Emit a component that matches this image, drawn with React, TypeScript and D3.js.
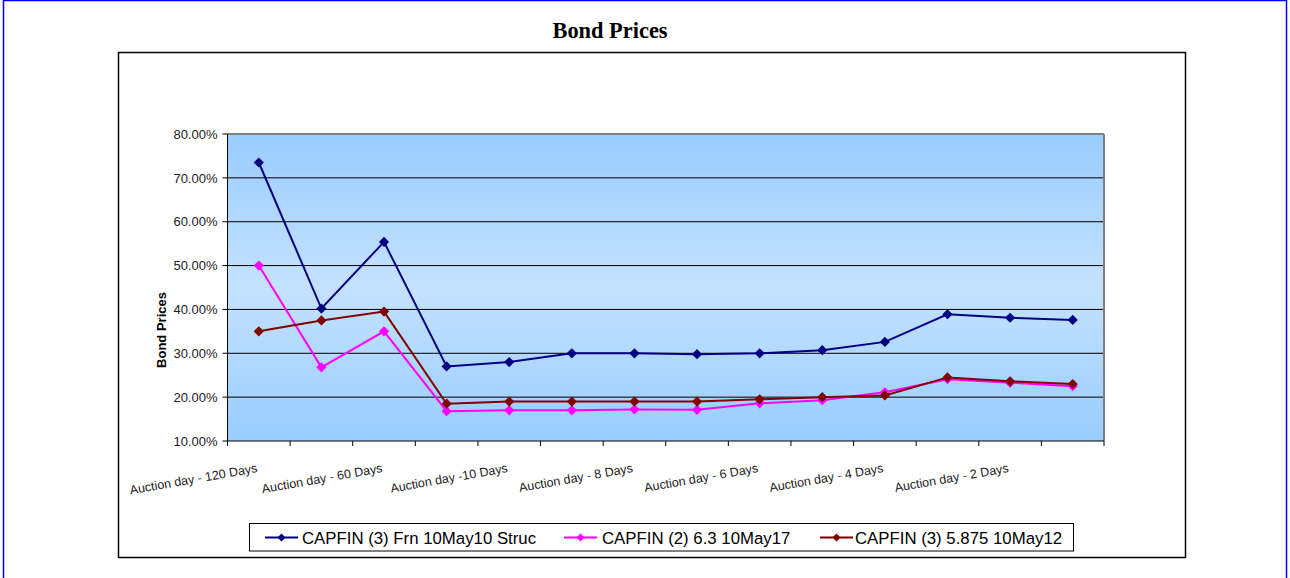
import * as d3 from "d3";

const categories = [
  "Auction day - 120 Days",
  "Auction day - 90 Days",
  "Auction day - 60 Days",
  "Auction day - 30 Days",
  "Auction day -10 Days",
  "Auction day - 9 Days",
  "Auction day - 8 Days",
  "Auction day - 7 Days",
  "Auction day - 6 Days",
  "Auction day - 5 Days",
  "Auction day - 4 Days",
  "Auction day - 3 Days",
  "Auction day - 2 Days",
  "Auction day - 1 Days",
];

const frnStruc = [73.5, 40.2, 55.4, 27.0, 28.0, 30.0, 30.0, 29.8, 30.0, 30.7, 32.6, 38.9, 38.1, 37.6];
const capfin63 = [50.0, 26.8, 35.0, 16.8, 17.0, 17.0, 17.2, 17.1, 18.6, 19.3, 21.1, 24.1, 23.3, 22.5];
const capfin5875 = [35.0, 37.5, 39.5, 18.5, 19.0, 19.0, 19.0, 19.0, 19.5, 20.0, 20.4, 24.5, 23.6, 23.0];

const seriesNames = [
  "CAPFIN (3) Frn 10May10 Struc",
  "CAPFIN (2) 6.3 10May17",
  "CAPFIN (3) 5.875 10May12",
];
const seriesColors = ["#000080", "#ff00ff", "#800000"];
const yTicks = [10, 20, 30, 40, 50, 60, 70, 80];

const W = 1290;
const H = 578;
const plot = { left: 227.5, right: 1104, top: 134, bottom: 441 };

export default function App() {
  const x = d3.scaleBand<string>().domain(categories).range([plot.left, plot.right]);
  const y = d3.scaleLinear().domain([10, 80]).range([plot.bottom, plot.top]);
  const cx = (c: string) => (x(c) ?? 0) + x.bandwidth() / 2;
  const fmt = (v: number) => d3.format(".2f")(v) + "%";

  const series = [frnStruc, capfin63, capfin5875];
  const line = d3
    .line<number>()
    .x((_, i) => cx(categories[i]))
    .y((d) => y(d));
  const diamond = d3.symbol().type(d3.symbolSquare).size(52)();
  const smallDiamond = d3.symbol().type(d3.symbolSquare).size(32)();

  // legend layout: line start and text start for each entry
  const legendItems = [
    { lineX: 265, textX: 302 },
    { lineX: 564, textX: 602 },
    { lineX: 820, textX: 855 },
  ];

  return (
    <svg
      width={W}
      height={H}
      style={{ position: "absolute", left: 0, top: 0 }}
      fontFamily="Arial, 'Liberation Sans', sans-serif"
    >
      <defs>
        <linearGradient id="bg" x1="0" y1="0" x2="0" y2="1">
          <stop offset="0%" stopColor="#99ccff" />
          <stop offset="50%" stopColor="#c4e2ff" />
          <stop offset="100%" stopColor="#99ccff" />
        </linearGradient>
      </defs>
      <rect x={0} y={0} width={W} height={H} fill="#fff" />
      <rect x={3.5} y={0.5} width={1283} height={620} fill="none" stroke="#0000ff" strokeWidth={1.5} />

      <text x={610} y={38} textAnchor="middle" fontFamily="'Times New Roman', 'Liberation Serif', serif" fontWeight="bold" fontSize={22.4}>
        Bond Prices
      </text>

      <rect x={118.5} y={52.5} width={1067} height={505} fill="none" stroke="#000" strokeWidth={1.5} />

      {/* plot area */}
      <rect
        x={plot.left}
        y={plot.top}
        width={plot.right - plot.left}
        height={plot.bottom - plot.top}
        fill="url(#bg)"
      />
      {yTicks.slice(1, -1).map((t) => (
        <line key={t} x1={plot.left} x2={plot.right} y1={y(t)} y2={y(t)} stroke="#000" strokeWidth={1} />
      ))}
      <line x1={plot.left} x2={plot.right} y1={plot.top} y2={plot.top} stroke="#808080" strokeWidth={2} />
      <line x1={plot.right} x2={plot.right} y1={plot.top} y2={plot.bottom} stroke="#808080" strokeWidth={2} />

      {/* y axis */}
      <line x1={plot.left} x2={plot.left} y1={plot.top} y2={plot.bottom} stroke="#000" strokeWidth={1} />
      {yTicks.map((t) => (
        <g key={t}>
          <line x1={plot.left - 5} x2={plot.left} y1={y(t)} y2={y(t)} stroke="#000" />
          <text x={plot.left - 10} y={y(t)} dy="0.36em" textAnchor="end" fontSize={13} fill="#222">
            {fmt(t)}
          </text>
        </g>
      ))}
      <text transform={`translate(166,330) rotate(-90)`} textAnchor="middle" fontSize={13} fontWeight="bold">
        Bond Prices
      </text>

      {/* x axis */}
      <line x1={plot.left} x2={plot.right} y1={plot.bottom} y2={plot.bottom} stroke="#000" strokeWidth={1.2} />
      {categories.map((c) => (
        <line key={c} x1={x(c)} x2={x(c)} y1={plot.bottom} y2={plot.bottom + 5} stroke="#000" />
      ))}
      <line x1={plot.right} x2={plot.right} y1={plot.bottom} y2={plot.bottom + 5} stroke="#000" />
      {categories.map((c, i) =>
        i % 2 === 0 ? (
          <text
            key={c}
            transform={`translate(${cx(c) - 1},${plot.bottom + 31}) rotate(-10)`}
            textAnchor="end"
            fontSize={12.5}
            fill="#222"
          >
            {c}
          </text>
        ) : null
      )}

      {/* series */}
      {series.map((s, si) => (
        <g key={si}>
          <path d={line(s) ?? ""} fill="none" stroke={seriesColors[si]} strokeWidth={2} />
          {s.map((v, i) => (
            <path
              key={i}
              d={diamond ?? ""}
              transform={`translate(${cx(categories[i])},${y(v)}) rotate(45)`}
              fill={seriesColors[si]}
            />
          ))}
        </g>
      ))}

      {/* legend */}
      <rect x={249.5} y={523.5} width={824} height={27.5} fill="#fff" stroke="#000" strokeWidth={1} />
      {legendItems.map((it, i) => (
        <g key={i}>
          <line x1={it.lineX} x2={it.lineX + 33} y1={537.5} y2={537.5} stroke={seriesColors[i]} strokeWidth={2} />
          <path
            d={smallDiamond ?? ""}
            transform={`translate(${it.lineX + 16.5},537.5) rotate(45)`}
            fill={seriesColors[i]}
          />
          <text x={it.textX} y={537.5} dy="0.36em" fontSize={16.8} fill="#000">
            {seriesNames[i]}
          </text>
        </g>
      ))}
    </svg>
  );
}
